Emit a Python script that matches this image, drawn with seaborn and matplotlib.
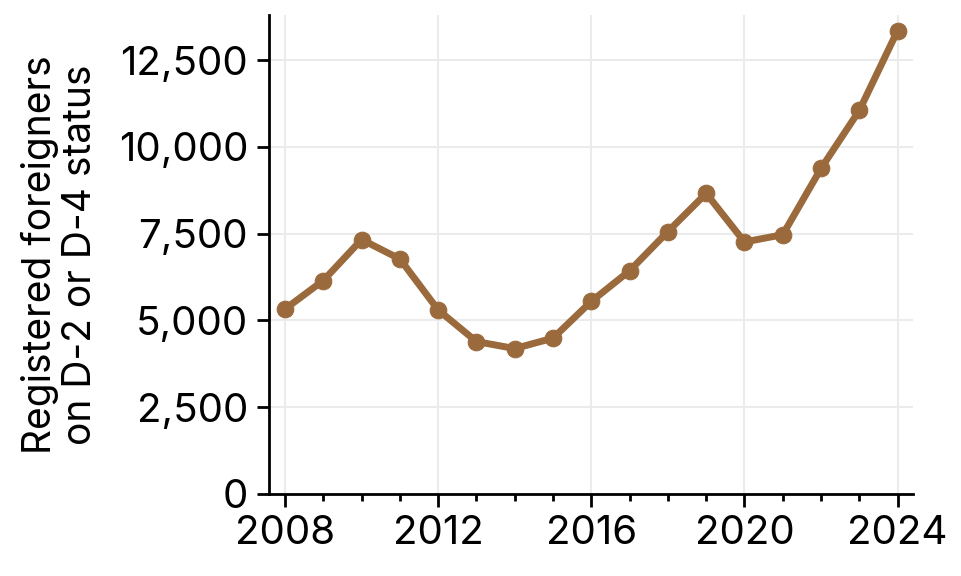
"""
    Registered foreigners on D-2 or D-4 status, 2008-2024.
"""

import matplotlib
matplotlib.use('Agg')
import matplotlib.pyplot as plt
from matplotlib.ticker import FuncFormatter, MultipleLocator
import seaborn as sns
import pandas as pd

#data
years = [2008, 2009, 2010, 2011, 2012, 2013, 2014, 2015, 2016,
         2017, 2018, 2019, 2020, 2021, 2022, 2023, 2024]
registered = [5330, 6150, 7330, 6770, 5300, 4390, 4190, 4490, 5550,
              6430, 7560, 8660, 7260, 7470, 9380, 11050, 13350]
x_ticks = [2008, 2012, 2016, 2020, 2024]
y_ticks = [0, 2500, 5000, 7500, 10000, 12500]

df = pd.DataFrame({'year': years, 'registered': registered})

sns.set_theme(style='white')
plt.rcParams['font.family'] = ['Inter', 'DejaVu Sans']

fig = plt.figure(figsize=(9.62, 5.76), dpi=100)
ax = fig.add_axes([0.2796, 0.1424, 0.949 - 0.2796, 0.974 - 0.1424])

color = '#9a6a3d'
sns.lineplot(data=df, x='year', y='registered', ax=ax, color=color,
             linewidth=5, marker='o', markersize=12,
             markeredgecolor=color, markerfacecolor=color)

ax.set_xlim(2007.58, 2024.4)
ax.set_ylim(0, 13800)
ax.set_xticks(x_ticks)
ax.xaxis.set_minor_locator(MultipleLocator(1))
ax.set_yticks(y_ticks)
ax.yaxis.set_major_formatter(FuncFormatter(lambda v, p: f'{int(v):,}'))

ax.grid(True, which='major', color='#ebebeb', linewidth=1.5)
ax.set_axisbelow(True)

for side in ['top', 'right']:
    ax.spines[side].set_visible(False)
for side in ['left', 'bottom']:
    ax.spines[side].set_color('black')
    ax.spines[side].set_linewidth(2)

ax.tick_params(axis='both', which='major', direction='out', length=9,
               width=2, color='black', labelsize=29, labelcolor='black',
               pad=6, left=True, bottom=True)
ax.tick_params(axis='x', which='minor', direction='out', length=5,
               width=2, color='black', bottom=True)

ax.set_xlabel('')
ax.set_ylabel('Registered foreigners\non D-2 or D-4 status', fontsize=28,
              color='black', linespacing=1.12, labelpad=14)

fig.savefig('out.png', dpi=100)
